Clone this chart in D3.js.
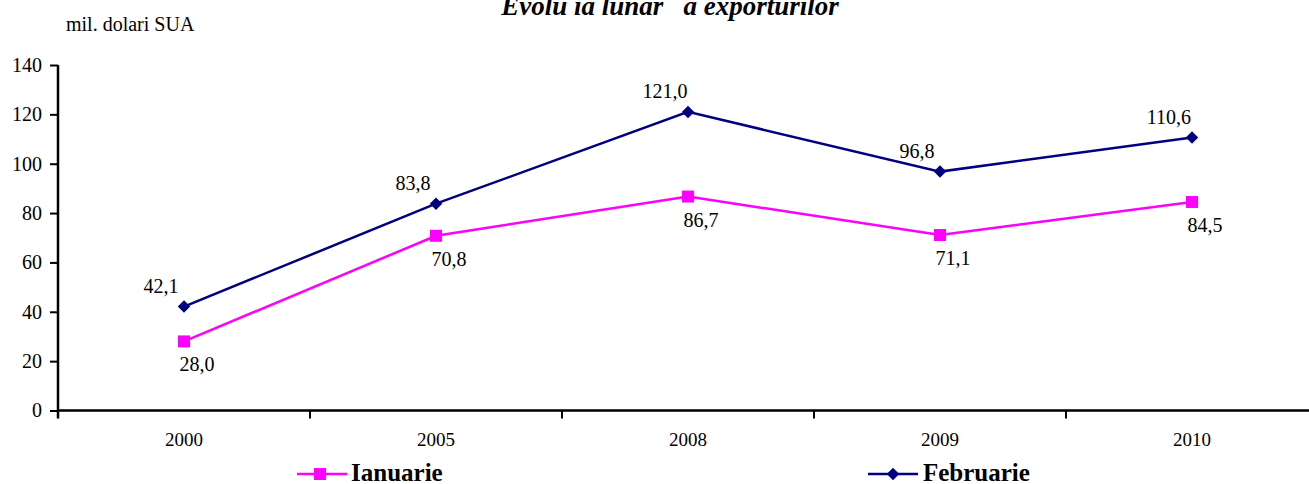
<!DOCTYPE html>
<html>
<head>
<meta charset="utf-8">
<script src="https://d3js.org/d3.v7.min.js"></script>
<style>
  body { margin: 0; background: #fff; }
  text { font-family: "Liberation Serif", "Times New Roman", serif; }
</style>
</head>
<body>
<script type="text/javascript">
	// data
	var years = ["2000", "2005", "2008", "2009", "2010"];
	var ianuarie = [28.0, 70.8, 86.7, 71.1, 84.5];
	var februarie = [42.1, 83.8, 121.0, 96.8, 110.6];
	var yTicks = [0, 20, 40, 60, 80, 100, 120, 140];

	var width = 1309, height = 484;
	var plotLeft = 58, plotRight = 1318, plotTop = 65, plotBottom = 410.5;

	var svg = d3.select("body")
				.append("svg")
				.attr("width", width)
				.attr("height", height);

	var x = d3.scaleBand().domain(years).range([plotLeft, plotRight]).paddingInner(0).paddingOuter(0);
	var y = d3.scaleLinear().domain([0, 140]).range([plotBottom, plotTop]);
	var cx = function(d, i) { return x(years[i]) + x.bandwidth() / 2; };

	// title (gaps kept as in the original)
	svg.append("text")
		.attr("x", 670)
		.attr("y", 15)
		.attr("text-anchor", "middle")
		.attr("font-size", "27px")
		.attr("font-weight", "bold")
		.attr("font-style", "italic")
		.style("white-space", "pre")
		.text("Evolu ia lunar   a exporturilor");

	// unit
	svg.append("text")
		.attr("x", 66)
		.attr("y", 31)
		.attr("font-size", "20px")
		.text("mil. dolari SUA");

	// y axis
	var yAxis = svg.append("g")
		.attr("transform", "translate(" + plotLeft + ",0)")
		.call(d3.axisLeft(y).tickValues(yTicks).tickSize(8).tickPadding(8).tickFormat(d3.format("d")));
	yAxis.select(".domain").attr("stroke", "#000").attr("stroke-width", 2.5)
		.attr("d", "M0," + plotTop + "V" + (plotBottom + 8));
	yAxis.selectAll(".tick line").attr("stroke", "#000").attr("stroke-width", 2);
	yAxis.selectAll(".tick text")
		.attr("font-size", "20px")
		.attr("font-family", "Liberation Serif, serif")
		.attr("fill", "#000");

	// x axis
	var xAxis = svg.append("g")
		.attr("transform", "translate(0," + plotBottom + ")")
		.call(d3.axisBottom(x).tickSize(0).tickPadding(22));
	xAxis.select(".domain").attr("stroke", "#000").attr("stroke-width", 2.5)
		.attr("d", "M" + plotLeft + ",0H" + plotRight);
	xAxis.selectAll(".tick text")
		.attr("font-size", "19px")
		.attr("font-family", "Liberation Serif, serif")
		.attr("fill", "#000");
	xAxis.selectAll(".bound")
		.data(years.slice(1).concat(["end"]))
		.enter().append("line")
		.attr("x1", function(d) { return d === "end" ? plotRight : x(d); })
		.attr("x2", function(d) { return d === "end" ? plotRight : x(d); })
		.attr("y1", 0)
		.attr("y2", 8)
		.attr("stroke", "#000")
		.attr("stroke-width", 2);

	var line = d3.line()
		.x(function(d, i) { return cx(d, i); })
		.y(function(d) { return y(d); });

	var fmt = function(v) { return v.toFixed(1).replace(".", ","); };

	// Ianuarie series
	svg.append("path")
		.datum(ianuarie)
		.attr("d", line)
		.attr("fill", "none")
		.attr("stroke", "#FF00FF")
		.attr("stroke-width", 2.5);
	svg.selectAll(".sq")
		.data(ianuarie)
		.enter().append("rect")
		.attr("x", function(d, i) { return cx(d, i) - 6; })
		.attr("y", function(d) { return y(d) - 6; })
		.attr("width", 12)
		.attr("height", 12)
		.attr("fill", "#FF00FF");
	svg.selectAll(".lblI")
		.data(ianuarie)
		.enter().append("text")
		.attr("x", function(d, i) { return cx(d, i) + 13; })
		.attr("y", function(d) { return y(d) + 30; })
		.attr("text-anchor", "middle")
		.attr("font-size", "20px")
		.text(fmt);

	// Februarie series
	svg.append("path")
		.datum(februarie)
		.attr("d", line)
		.attr("fill", "none")
		.attr("stroke", "#000080")
		.attr("stroke-width", 2.5);
	svg.selectAll(".dm")
		.data(februarie)
		.enter().append("path")
		.attr("d", d3.symbol().type(d3.symbolDiamond2).size(100))
		.attr("transform", function(d, i) { return "translate(" + cx(d, i) + "," + y(d) + ")"; })
		.attr("fill", "#000080");
	svg.selectAll(".lblF")
		.data(februarie)
		.enter().append("text")
		.attr("x", function(d, i) { return cx(d, i) - 23; })
		.attr("y", function(d) { return y(d) - 14; })
		.attr("text-anchor", "middle")
		.attr("font-size", "20px")
		.text(fmt);

	// legend
	svg.append("line")
		.attr("x1", 297).attr("x2", 347)
		.attr("y1", 474).attr("y2", 474)
		.attr("stroke", "#FF00FF").attr("stroke-width", 2.5);
	svg.append("rect")
		.attr("x", 314).attr("y", 468)
		.attr("width", 12).attr("height", 12)
		.attr("fill", "#FF00FF");
	svg.append("text")
		.attr("x", 351).attr("y", 481)
		.attr("font-size", "25px")
		.attr("font-weight", "bold")
		.text("Ianuarie");

	svg.append("line")
		.attr("x1", 868).attr("x2", 918)
		.attr("y1", 474).attr("y2", 474)
		.attr("stroke", "#000080").attr("stroke-width", 2.5);
	svg.append("path")
		.attr("d", d3.symbol().type(d3.symbolDiamond2).size(100))
		.attr("transform", "translate(893,474)")
		.attr("fill", "#000080");
	svg.append("text")
		.attr("x", 923).attr("y", 481)
		.attr("font-size", "25px")
		.attr("font-weight", "bold")
		.text("Februarie");
</script>
</body>
</html>
